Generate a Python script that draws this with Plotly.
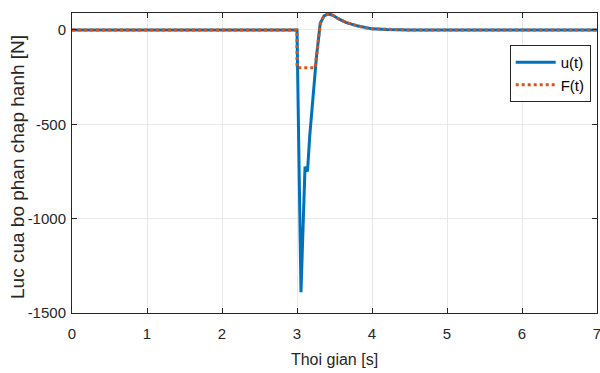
import plotly.graph_objects as go

# Time axis and series values
t_u = [0, 3.0, 3.053, 3.10, 3.107, 3.12, 3.14, 3.17, 3.21, 3.24, 3.26, 3.31, 3.36, 3.42, 3.48, 3.55, 3.65, 3.8, 3.9, 4.0, 4.2, 4.5, 7.0]
u_vals = [0, 0, -1390, -770, -725, -735, -750, -560, -371, -225, -140, 35, 75, 85, 78, 60, 40, 22, 12, 6, 2, 0, 0]

t_F = [0, 3.0, 3.0, 3.24, 3.26, 3.31, 3.36, 3.42, 3.48, 3.55, 3.65, 3.8, 3.9, 4.0, 4.2, 4.5, 7.0]
F_vals = [0, 0, -200, -200, -140, 35, 75, 85, 78, 60, 40, 22, 12, 6, 2, 0, 0]

x_ticks = [0, 1, 2, 3, 4, 5, 6, 7]
y_ticks = [0, -500, -1000, -1500]

FONT = "Liberation Sans, Arial"
TXT = "#262626"

fig = go.Figure()
fig.add_trace(go.Scatter(x=t_u, y=u_vals, mode="lines", name="u(t)",
                         line=dict(color="#0072BD", width=3)))
fig.add_trace(go.Scatter(x=t_F, y=F_vals, mode="lines", name="F(t)",
                         line=dict(color="#D95319", width=3, dash="dot")))

axis_common = dict(showline=True, linecolor=TXT, linewidth=1, mirror="ticks",
                   ticks="inside", ticklen=5, tickcolor=TXT,
                   showgrid=True, gridcolor="#E8E8E8", gridwidth=1, zeroline=False,
                   ticklabeloverflow="allow", automargin=False,
                   tickfont=dict(family=FONT, size=15, color=TXT))

fig.update_xaxes(range=[0, 7], tickvals=x_ticks, ticktext=[str(v) for v in x_ticks],
                 ticklabelstandoff=7,
                 title=dict(text="Thoi gian [s]", font=dict(family=FONT, size=16, color=TXT), standoff=12),
                 **axis_common)
fig.update_yaxes(range=[-1500, 90], tickvals=y_ticks, ticktext=[str(v) for v in y_ticks],
                 ticklabelstandoff=2,
                 **axis_common)

fig.add_annotation(text="Luc cua bo phan chap hanh [N]", xref="paper", yref="paper",
                   x=0, y=0.5, xanchor="center", yanchor="middle", xshift=-55, yshift=-4,
                   textangle=-90, showarrow=False,
                   font=dict(family=FONT, size=19, color=TXT))

fig.update_layout(
    width=600, height=373,
    margin=dict(l=72, r=3, t=13, b=60),
    paper_bgcolor="white", plot_bgcolor="white",
    showlegend=True,
    legend=dict(x=0.988, y=0.893, xanchor="right", yanchor="top",
                bgcolor="white", bordercolor=TXT, borderwidth=1,
                itemwidth=40,
                font=dict(family=FONT, size=15, color="#000000"),
                tracegroupgap=0),
)

fig.write_html("out.html")
